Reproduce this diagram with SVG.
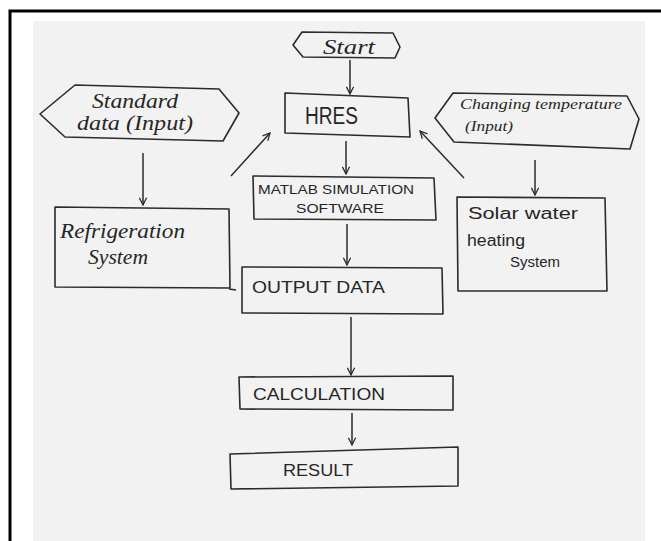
<svg xmlns="http://www.w3.org/2000/svg" width="661" height="541" viewBox="0 0 661 541">
<defs>
<style>
.shape{fill:none;stroke:#2b2b2b;stroke-width:1.6;stroke-linejoin:round}
.conn{fill:none;stroke:#2b2b2b;stroke-width:1.5;marker-end:url(#ah)}
.caps{font-family:"Liberation Sans","DejaVu Sans",sans-serif;fill:#262626}
.hand{font-family:"Liberation Serif","DejaVu Serif",serif;font-style:italic;fill:#262626}
</style>
<marker id="ah" viewBox="0 0 10 10" refX="9" refY="5" markerWidth="9" markerHeight="9" markerUnits="userSpaceOnUse" orient="auto">
<path d="M1,1 L9,5 L1,9" fill="none" stroke="#2b2b2b" stroke-width="1.4"/>
</marker>
</defs>
<rect x="0" y="0" width="661" height="541" fill="#ffffff"/>
<rect x="33" y="21" width="612" height="520" fill="#f2f2f2"/>
<path d="M10,541 V11 H661" fill="none" stroke="#000" stroke-width="3"/>

<g id="connectors">
<line class="conn" x1="350" y1="60" x2="350" y2="94"/>
<line class="conn" x1="231" y1="176" x2="270" y2="133"/>
<line class="conn" x1="464" y1="178" x2="420" y2="131"/>
<line class="conn" x1="346" y1="141" x2="346" y2="174"/>
<line class="conn" x1="143" y1="153" x2="143" y2="205"/>
<line class="conn" x1="535" y1="160" x2="535" y2="195"/>
<line class="conn" x1="347" y1="224" x2="347" y2="265"/>
<line class="conn" x1="351" y1="317" x2="351" y2="375"/>
<line class="conn" x1="352" y1="413" x2="352" y2="445"/>
</g>

<g id="start">
<polygon class="shape" points="293,45 302,32 393,33 400,47 395,58 303,57"/>
<text class="hand" x="323" y="54" font-size="20" textLength="52" lengthAdjust="spacingAndGlyphs">Start</text>
</g>

<g id="hres">
<polygon class="shape" points="285,93 408,98 410,137 285,133"/>
<text class="caps" x="305" y="124" font-size="23" textLength="53" lengthAdjust="spacingAndGlyphs">HRES</text>
</g>

<g id="standard-data">
<polygon class="shape" points="40,114 75,85 219,89 239,113 223,141 65,137"/>
<text class="hand" x="92" y="108" font-size="20" textLength="86" lengthAdjust="spacingAndGlyphs">Standard</text>
<text class="hand" x="77" y="130" font-size="20" textLength="116" lengthAdjust="spacingAndGlyphs">data (Input)</text>
</g>

<g id="changing-temperature">
<polygon class="shape" points="435,118 453,93 627,96 639,119 630,149 454,142"/>
<text class="hand" x="460" y="109" font-size="15" textLength="162" lengthAdjust="spacingAndGlyphs">Changing temperature</text>
<text class="hand" x="465" y="131" font-size="15" textLength="48" lengthAdjust="spacingAndGlyphs">(Input)</text>
</g>

<g id="refrigeration">
<polygon class="shape" points="55,207 229,209 230,288 55,287"/>
<line class="shape" x1="229" y1="289" x2="236" y2="290"/>
<text class="hand" x="60" y="238" font-size="22" textLength="125" lengthAdjust="spacingAndGlyphs">Refrigeration</text>
<text class="hand" x="88" y="264" font-size="22" textLength="60" lengthAdjust="spacingAndGlyphs">System</text>
</g>

<g id="matlab">
<polygon class="shape" points="253,176 434,178 436,220 254,219"/>
<text class="caps" x="258" y="194" font-size="13" textLength="156" lengthAdjust="spacingAndGlyphs">MATLAB SIMULATION</text>
<text class="caps" x="296" y="213" font-size="13" textLength="88" lengthAdjust="spacingAndGlyphs">SOFTWARE</text>
</g>

<g id="solar">
<polygon class="shape" points="457,197 605,198 607,291 458,291"/>
<text class="caps" x="468" y="219" font-size="16" textLength="110" lengthAdjust="spacingAndGlyphs">Solar water</text>
<text class="caps" x="467" y="246" font-size="16" textLength="58" lengthAdjust="spacingAndGlyphs">heating</text>
<text class="caps" x="510" y="267" font-size="14" textLength="50" lengthAdjust="spacingAndGlyphs">System</text>
</g>

<g id="output-data">
<polygon class="shape" points="242,267 442,268 443,314 242,313"/>
<text class="caps" x="252" y="293" font-size="16" textLength="133" lengthAdjust="spacingAndGlyphs">OUTPUT DATA</text>
</g>

<g id="calculation">
<polygon class="shape" points="239,377 453,376 453,410 240,409"/>
<text class="caps" x="253" y="400" font-size="16" textLength="132" lengthAdjust="spacingAndGlyphs">CALCULATION</text>
</g>

<g id="result">
<polygon class="shape" points="230,454 458,447 458,486 231,489"/>
<text class="caps" x="283" y="476" font-size="17" textLength="70" lengthAdjust="spacingAndGlyphs">RESULT</text>
</g>
</svg>
